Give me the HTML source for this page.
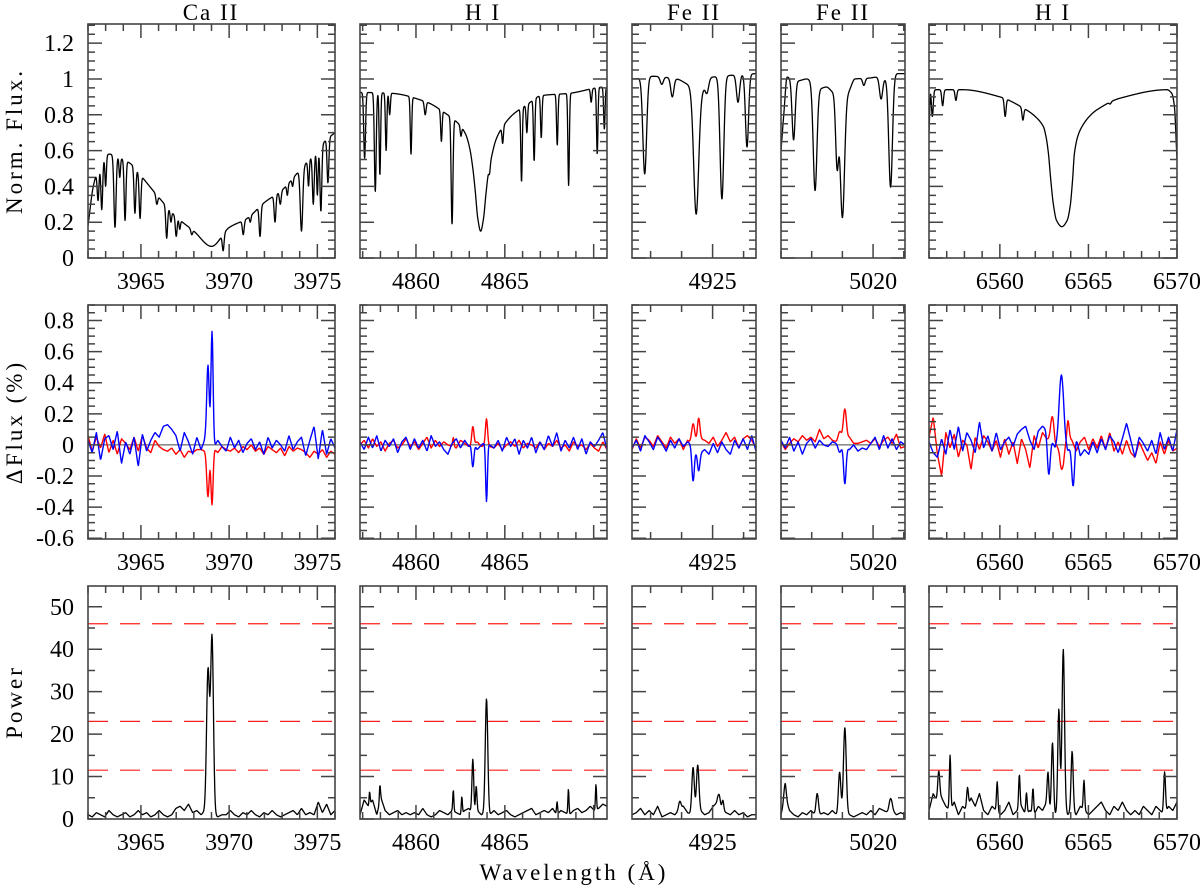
<!DOCTYPE html>
<html><head><meta charset="utf-8"><style>
html,body{margin:0;padding:0;background:#fff;}
svg{display:block;font-family:"Liberation Serif","DejaVu Serif",serif;}
</style></head><body>
<svg id="fig" width="1200" height="890" viewBox="0 0 1200 890" xmlns="http://www.w3.org/2000/svg">
<text x="211" y="20" font-size="23" text-anchor="middle" letter-spacing="2">Ca II</text>
<text x="483" y="20" font-size="23" text-anchor="middle" letter-spacing="2">H I</text>
<text x="694" y="20" font-size="23" text-anchor="middle" letter-spacing="2">Fe II</text>
<text x="843" y="20" font-size="23" text-anchor="middle" letter-spacing="2">Fe II</text>
<text x="1053" y="20" font-size="23" text-anchor="middle" letter-spacing="2">H I</text>
<text transform="translate(22,141) rotate(-90)" font-size="23" text-anchor="middle" letter-spacing="3">Norm. Flux.</text>
<text transform="translate(22,422) rotate(-90)" font-size="23" text-anchor="middle" letter-spacing="3">ΔFlux (%)</text>
<text transform="translate(22,702) rotate(-90)" font-size="23" text-anchor="middle" letter-spacing="3">Power</text>
<text x="574" y="880" font-size="23" text-anchor="middle" letter-spacing="3">Wavelength (Å)</text>
</svg>
<script>
// ---------- axis configuration ----------
const colLeft=[88,360,632,781,929];
const colRight=[335,607,756,905,1177];
const colMin=[3962,4856.85,4922.4,5017.0,6556];
const colMax=[3976,4870.75,4926.4,5021.04,6570];
const colMajor=[[3965,3970,3975],[4860,4865,4870],[4925],[5020],[6560,6565,6570]];
const colLabels=[["3965","3970","3975"],["4860","4865",""],["4925"],["5020"],["6560","6565","6570"]];
const rowTop=[24,305,586];
const rowBot=[258,539,819];
const rowMin=[0,-0.605,0];
const rowMax=[1.307,0.9,54.9];
const rowMajorStep=[0.2,0.2,10];
const rowMinorStep=[0.05,0.05,5];
const row1Labels=["0","0.2","0.4","0.6","0.8","1","1.2"];
const row2Labels=["-0.6","-0.4","-0.2","0","0.2","0.4","0.6","0.8"];
const row3Labels=["0","10","20","30","40","50"];
const thresholds=[11.5,23,46];

// ---------- Row 1: normalized flux (continuum points + absorption lines [lambda, minFlux, sigma]) ----------
const fluxCont1=[[3962,0.18],[3962.3,0.4],[3962.6,0.5],[3963.2,0.58],[3964,0.55],[3964.5,0.52],[3965,0.46],[3966,0.34],[3967,0.23],[3968,0.15],[3969,0.065],[3970,0.17],[3971,0.22],[3972,0.31],[3973,0.38],[3974,0.49],[3975,0.6],[3975.5,0.66],[3976,0.7]];
const fluxLines1=[[3962.57,0.32,0.05],[3962.78,0.27,0.05],[3963.0,0.4,0.04],[3963.53,0.17,0.06],[3963.8,0.45,0.04],[3964.1,0.21,0.05],[3964.66,0.25,0.05],[3964.95,0.22,0.05],[3965.9,0.3,0.05],[3966.46,0.11,0.05],[3966.7,0.2,0.04],[3967.0,0.12,0.05],[3967.2,0.16,0.04],[3967.88,0.13,0.05],[3969.66,0.04,0.05],[3970.8,0.13,0.05],[3971.2,0.2,0.04],[3971.75,0.12,0.05],[3972.6,0.2,0.05],[3972.9,0.3,0.05],[3973.3,0.35,0.04],[3973.6,0.4,0.04],[3974.1,0.15,0.07],[3974.5,0.4,0.04],[3974.77,0.3,0.05],[3975.0,0.35,0.04],[3975.2,0.26,0.05],[3975.6,0.42,0.05]];
const fluxCont2=[[4856.61,0.926],[4858.62,0.92],[4860.62,0.87],[4861.63,0.81],[4862.43,0.746],[4862.8,0.69],[4863.03,0.61],[4863.2,0.5],[4863.33,0.38],[4863.48,0.22],[4863.64,0.15],[4863.8,0.22],[4863.94,0.36],[4864.08,0.48],[4864.24,0.56],[4864.5,0.66],[4864.84,0.727],[4865.44,0.8],[4866.24,0.856],[4867.05,0.907],[4868.65,0.92],[4870.66,0.955],[4870.86,0.95]];
const fluxLines2=[[4857.11,0.557,0.05],[4857.71,0.37,0.05],[4857.97,0.46,0.04],[4858.32,0.6,0.04],[4858.52,0.8,0.04],[4859.72,0.58,0.04],[4860.52,0.8,0.05],[4861.43,0.65,0.04],[4862.03,0.187,0.05],[4862.53,0.68,0.04],[4864.14,0.47,0.04],[4864.88,0.64,0.04],[4865.94,0.424,0.04],[4866.24,0.7,0.04],[4866.65,0.54,0.04],[4867.05,0.67,0.04],[4867.95,0.63,0.04],[4868.59,0.405,0.04],[4869.86,0.87,0.04],[4870.2,0.58,0.04],[4870.6,0.72,0.04]];
const fluxCont3=[[4922.4,1.0],[4922.44,1.0],[4923.04,1.015],[4923.84,1.0],[4924.19,0.97],[4924.59,0.93],[4924.99,1.01],[4925.57,1.02],[4926.4,1.03]];
const fluxLines3=[[4922.81,0.47,0.06],[4923.36,0.97,0.05],[4923.7,0.9,0.05],[4924.47,0.245,0.08],[4924.82,0.92,0.05],[4925.3,0.33,0.06],[4925.82,0.87,0.05],[4926.11,0.62,0.05]];
const fluxCont4=[[5017.0,0.6],[5017.09,0.8],[5017.2,1.01],[5017.55,0.99],[5017.84,1.0],[5018.25,0.946],[5018.48,0.955],[5018.72,0.926],[5019.18,0.93],[5019.41,1.0],[5019.88,1.005],[5020.11,1.01],[5020.34,1.0],[5020.81,1.03],[5021.04,1.03]];
const fluxLines4=[[5017.41,0.66,0.05],[5018.11,0.377,0.06],[5018.83,0.51,0.05],[5019.0,0.226,0.07],[5019.7,0.964,0.04],[5020.26,0.888,0.05],[5020.57,0.396,0.06]];
const fluxCont5=[[6556,0.7],[6556.1,0.94],[6557.9,0.94],[6560.0,0.9],[6561.5,0.827],[6562.0,0.79],[6562.46,0.733],[6562.62,0.67],[6562.74,0.585],[6562.88,0.43],[6563.02,0.3],[6563.2,0.21],[6563.5,0.175],[6563.8,0.21],[6563.97,0.29],[6564.1,0.43],[6564.21,0.585],[6564.4,0.68],[6564.63,0.733],[6565.0,0.785],[6565.47,0.827],[6566.8,0.893],[6569.43,0.94],[6569.7,0.92],[6569.85,0.85],[6570,0.55]];
const fluxLines5=[[6556.19,0.79,0.05],[6556.77,0.85,0.05],[6557.52,0.88,0.05],[6560.3,0.79,0.05],[6561.3,0.77,0.05],[6566.23,0.86,0.05]];

// ---------- Row 2: delta flux (noise in 0.01 units, evenly spaced; features [lambda, amp, sigma]) ----------
const dBlueNoise1=[3,-5,8,-10,4,6,-3,9,-12,2,-6,5,-14,7,-4,3,8,5,12,13,10,6,-4,8,2,-6,5,-3,4,0,-2,3,-1,-4,5,-2,3,-5,1,4,-3,2,-6,5,-2,3,0,-4,6,-3,2,5,-7,3,12,-9,10,-6,4,-2];
const dRedNoise1=[6,-4,5,-2,7,-5,3,-6,4,1,-3,5,-4,6,-2,-5,3,-1,-3,-4,-2,-6,-3,-8,-4,-5,-3,-3,-4,-3,-2,-5,-1,-3,-4,-2,-5,-1,-3,0,-4,-2,-6,-1,-3,-5,-2,-7,-1,-4,-2,-3,-5,-8,-4,-6,-3,-8,-4,-6];
const dBlueFeat1=[[3968.8,0.5,0.07],[3969.03,0.74,0.06]];
const dRedFeat1=[[3968.8,-0.3,0.07],[3969.03,-0.36,0.06]];
const dBlueNoise2=[2,-3,5,-2,6,-4,3,-1,4,-5,2,5,-3,4,-2,3,-4,6,-1,2,-3,-6,1,4,-2,3,-1,2,-3,0,2,0,-2,3,-4,5,-1,4,-6,3,-2,5,-5,2,-3,6,-1,8,-4,3,-2,5,-3,4,-6,2,-1,3,8,-3];
const dRedNoise2=[0,3,-2,4,-1,2,-4,1,3,-2,0,4,-1,2,-3,1,5,-2,3,-1,2,0,-1,-2,3,1,-1,0,2,-1,0,-1,-2,1,-3,0,2,-1,3,-2,1,0,-2,2,-3,1,-1,3,-2,0,-4,2,-1,0,-3,1,-2,-4,2,-3];
const dBlueFeat2=[[4863.2,-0.16,0.06],[4863.97,-0.38,0.05]];
const dRedFeat2=[[4863.2,0.12,0.06],[4863.97,0.17,0.06],[4862.1,0.06,0.04]];
const dBlueNoise3=[-2,3,-4,6,2,-3,5,1,-4,3,-2,4,-1,2,0,-4,-5,-3,-6,1,-5,2,-3,-6,3,-2,4,-3,6,-4];
const dRedNoise3=[-3,4,-2,5,3,-1,6,2,-2,5,1,4,-3,3,0,2,4,3,1,5,-1,3,8,2,5,-2,4,6,3,-2];
const dBlueFeat3=[[4924.37,-0.22,0.04],[4924.55,-0.12,0.04]];
const dRedFeat3=[[4924.37,0.13,0.05],[4924.55,0.14,0.04]];
const dBlueNoise4=[3,-2,5,-4,2,-6,1,4,-2,3,0,-1,2,1,0,-1,-3,0,-4,-2,-3,1,5,-3,6,-2,4,-3,2,0];
const dRedNoise4=[2,-3,1,4,2,6,3,5,2,10,4,6,3,2,4,3,5,1,1,2,3,1,4,-1,3,5,1,7,-2,-1];
const dBlueFeat4=[[5019.08,-0.24,0.04],[5018.91,-0.05,0.05]];
const dRedFeat4=[[5019.08,0.2,0.05],[5018.91,0.05,0.05]];
const dBlueNoise5=[2,-5,-8,4,-6,10,-3,12,-4,8,3,-5,15,-2,6,-4,8,-3,2,5,-1,7,10,12,3,-3,9,12,10,4,-2,4,6,-4,0,5,-7,-3,-6,2,-5,4,-3,6,2,-5,4,14,3,-8,5,1,-4,3,-6,8,-3,5,-4,10];
const dRedNoise5=[5,18,-6,-20,8,-2,7,-8,3,0,-16,5,-3,6,2,-4,3,-8,4,-6,2,-12,4,-3,-15,6,-2,8,4,2,-3,5,-2,6,3,-4,2,5,-3,4,-2,6,-3,8,-4,2,-6,3,-5,-8,2,-4,-10,-5,-12,2,-6,3,-4,-2];
const dBlueFeat5=[[6563.47,0.4,0.12],[6562.76,-0.26,0.08],[6564.14,-0.28,0.08]];
const dRedFeat5=[[6562.97,0.18,0.1],[6563.47,-0.17,0.12],[6563.85,0.1,0.06]];

// ---------- Row 3: power (baseline evenly spaced; peaks [lambda, height, sigma]) ----------
const powNoise1=[1,0.5,1.5,1,0.5,2,1,0.5,1,1.5,0.5,1,2,1,1.5,0.5,1,2,1,0.5,1,2.5,3,2,3.5,1.5,2,1,2,3.5,1,0.5,1,1,2,1,0.5,1.5,1,2,1,0.5,1.5,1,2,1,0.5,1,1.5,2,1,2.5,1,1.5,1,4,1.5,3.5,1,2];
const powPeaks1=[[3968.8,32,0.08],[3969.03,41,0.08]];
const powNoise2=[1,4.5,3,4.5,1,5,2,1,1.5,2,1,1.5,1,1.5,1,2.5,1,0.5,1,2,1.5,1,2,1.5,1,2,2.5,1,2,1,1.5,1,2,1,1.5,2,1,0.5,1,1.5,2,2.5,1,1.5,2,1.5,2.5,1,2,1.5,1,2,2.5,1.5,2,3,2,2.5,3.5,3];
const powPeaks2=[[4863.2,13,0.05],[4863.39,6,0.04],[4863.97,27,0.07],[4862.1,5,0.03],[4862.58,4,0.03],[4857.39,3,0.03],[4857.97,4,0.03],[4867.94,3,0.03],[4868.58,6,0.03],[4870.13,6,0.03]];
const powNoise3=[1,1.5,2.5,1,2,1,3,0.5,1,1.5,1,2,3,1.5,1,1.5,2,1,1.5,3,4,2,1.5,1,2,1,1.5,0.5,1,1];
const powPeaks3=[[4924.37,11,0.04],[4924.52,11,0.04],[4923.94,2,0.04],[4925.21,2.5,0.04],[4925.33,2.5,0.03]];
const powNoise4=[1,5,2,1,0.5,1.5,1,2,1,1,1.5,1,2,1,1,1.5,1,0.5,1,1.5,1,2,1,2.5,2,1.5,2,1,1.5,1];
const powPeaks4=[[5018.91,10,0.04],[5019.08,20,0.045],[5017.13,3.5,0.04],[5018.18,5,0.04],[5020.57,3,0.05]];
const powNoise5=[2,6,4,5,3,2,4,1,3,2,5,3,6,2,1,3,2,1,2,4,1,2,3,1,2,1,3,2,4,1,1,2,3,1,2,1,3,2,1,2,3,4,2,1,3,2,4,2,1,2,1,3,2,1,3,2,1,3,2,4];
const powPeaks5=[[6556.55,7,0.06],[6557.19,13,0.04],[6558.17,5,0.05],[6559.85,7,0.04],[6561.1,8,0.04],[6561.5,5,0.04],[6561.87,6,0.04],[6562.72,8,0.05],[6562.97,17,0.06],[6563.33,24,0.06],[6563.58,37,0.07],[6564.08,14,0.06],[6564.75,7,0.04],[6569.3,10,0.05]];

const fluxConts=[fluxCont1,fluxCont2,fluxCont3,fluxCont4,fluxCont5];
const fluxLinesAll=[fluxLines1,fluxLines2,fluxLines3,fluxLines4,fluxLines5];
const dBlueNoises=[dBlueNoise1,dBlueNoise2,dBlueNoise3,dBlueNoise4,dBlueNoise5];
const dRedNoises=[dRedNoise1,dRedNoise2,dRedNoise3,dRedNoise4,dRedNoise5];
const dBlueFeats=[dBlueFeat1,dBlueFeat2,dBlueFeat3,dBlueFeat4,dBlueFeat5];
const dRedFeats=[dRedFeat1,dRedFeat2,dRedFeat3,dRedFeat4,dRedFeat5];
const powNoises=[powNoise1,powNoise2,powNoise3,powNoise4,powNoise5];
const powPeaksAll=[powPeaks1,powPeaks2,powPeaks3,powPeaks4,powPeaks5];

const NS="http://www.w3.org/2000/svg";
const svg=document.getElementById('fig');
function mk(tag,attrs,parent){const e=document.createElementNS(NS,tag);for(const k in attrs)e.setAttribute(k,attrs[k]);(parent||svg).appendChild(e);return e;}
function xs(c,l){return colLeft[c]+(l-colMin[c])/(colMax[c]-colMin[c])*(colRight[c]-colLeft[c]);}
function ys(r,v){return rowBot[r]-(v-rowMin[r])/(rowMax[r]-rowMin[r])*(rowBot[r]-rowTop[r]);}
// monotone cubic (Fritsch-Carlson) interpolation through [x,y] pairs
function interpPairs(arr,l){
 const n=arr.length;
 if(l<=arr[0][0])return arr[0][1];
 if(l>=arr[n-1][0])return arr[n-1][1];
 let i=1;while(arr[i][0]<l)i++;
 const sl=k=>(arr[k+1][1]-arr[k][1])/(arr[k+1][0]-arr[k][0]);
 const tan=k=>{
  if(k===0)return sl(0);
  if(k===n-1)return sl(n-2);
  const a=sl(k-1),b=sl(k);
  if(a*b<=0)return 0;
  return 2/(1/a+1/b);
 };
 const x0=arr[i-1][0],x1=arr[i][0],y0=arr[i-1][1],y1=arr[i][1],h=x1-x0,t=(l-x0)/h;
 const m0=tan(i-1),m1=tan(i);
 const t2=t*t,t3=t2*t;
 return (2*t3-3*t2+1)*y0+(t3-2*t2+t)*h*m0+(-2*t3+3*t2)*y1+(t3-t2)*h*m1;
}
function interpEven(arr,c,l){const t=(l-colMin[c])/(colMax[c]-colMin[c])*(arr.length-1);const i=Math.max(0,Math.min(arr.length-2,Math.floor(t)));const f=t-i;return arr[i]+f*(arr[i+1]-arr[i]);}
function g(l,c,s){return Math.exp(-0.5*((l-c)/s)*((l-c)/s));}
function pathFrom(c,r,fn,n){let d='';for(let i=0;i<=n;i++){const l=colMin[c]+(colMax[c]-colMin[c])*i/n;const v=fn(l);d+=(i?'L':'M')+xs(c,l).toFixed(2)+','+ys(r,v).toFixed(2);}return d;}

const rowNames=['flux','delta-flux','power'];
const defs=mk('defs',{});
for(let r=0;r<3;r++){
 for(let c=0;c<5;c++){
  const cp=mk('clipPath',{id:'cp'+r+c},defs);
  mk('rect',{x:colLeft[c],y:rowTop[r],width:colRight[c]-colLeft[c],height:rowBot[r]-rowTop[r]},cp);
  const grp=mk('g',{'clip-path':'url(#cp'+r+c+')'});
  
  
  if(r===0){
   const cont=fluxConts[c],lines=fluxLinesAll[c];
   const fn=l=>{let f=interpPairs(cont,l);for(const ln of lines){const cc=interpPairs(cont,ln[0]);const dep=Math.max(0,1-ln[1]/cc);f*=1-dep*g(l,ln[0],ln[2]);}return f;};
   const p=mk('path',{d:pathFrom(c,0,fn,900),fill:'none',stroke:'#000','stroke-width':1.3,'stroke-linejoin':'round'},grp);
   
   
  } else if(r===1){
   const zl=mk('line',{x1:colLeft[c],x2:colRight[c],y1:ys(1,0),y2:ys(1,0),stroke:'#444','stroke-width':1},grp);
   
   
   const series=[[dRedNoises[c],dRedFeats[c],'#ff0000','red'],[dBlueNoises[c],dBlueFeats[c],'#0000ff','blue']];
   for(const s of series){
    const fn=l=>{let v=0.01*interpEven(s[0],c,l);for(const f of s[1])v+=f[1]*g(l,f[0],f[2]);return v;};
    const p=mk('path',{d:pathFrom(c,1,fn,500),fill:'none',stroke:s[2],'stroke-width':1.4,'stroke-linejoin':'round'},grp);
    
    
   }
  } else {
   for(const th of thresholds){
    const dl=mk('line',{x1:colLeft[c],x2:colRight[c],y1:ys(2,th),y2:ys(2,th),stroke:'#ff2020','stroke-width':1.2,'stroke-dasharray':'20,12'},grp);
    
    
   }
   const noise=powNoises[c],peaks=powPeaksAll[c];
   const fn=l=>{let v=interpEven(noise,c,l);for(const pk of peaks)v+=pk[1]*g(l,pk[0],pk[2]);return v;};
   const p=mk('path',{d:pathFrom(c,2,fn,600),fill:'none',stroke:'#000','stroke-width':1.3,'stroke-linejoin':'round'},grp);
   
   
  }
  const fr=mk('rect',{x:colLeft[c],y:rowTop[r],width:colRight[c]-colLeft[c],height:rowBot[r]-rowTop[r],fill:'none',stroke:'#444','stroke-width':1.6});
  
  
  let d='';
  for(let l=Math.ceil(colMin[c]);l<=colMax[c];l++){
   const x=xs(c,l);const maj=colMajor[c].indexOf(l)>=0;const len=maj?14:7;
   d+='M'+x+','+rowBot[r]+'v'+(-len)+'M'+x+','+rowTop[r]+'v'+len;
  }
  const st=rowMinorStep[r],mj=rowMajorStep[r];
  for(let k=Math.ceil(rowMin[r]/st-1e-6);k*st<=rowMax[r]+1e-9;k++){
   const v=k*st;const y=ys(r,v);const maj=Math.abs(v/mj-Math.round(v/mj))<1e-6;const len=maj?14:7;
   d+='M'+colLeft[c]+','+y+'h'+len+'M'+colRight[c]+','+y+'h'+(-len);
  }
  const tk=mk('path',{d:d,stroke:'#444','stroke-width':1.5,fill:'none'});
  
  
  for(let i=0;i<colMajor[c].length;i++){
   if(!colLabels[c][i])continue;
   const t=mk('text',{x:xs(c,colMajor[c][i]),y:rowBot[r]+31,'font-size':24,'text-anchor':'middle'});
   t.textContent=colLabels[c][i];
   
   
  }
 }
 const labs=[row1Labels,row2Labels,row3Labels][r];
 for(const s of labs){
  const t=mk('text',{x:74,y:ys(r,parseFloat(s))+8,'font-size':24,'text-anchor':'end'});
  t.textContent=s;
  
  
 }
}
</script>
</body></html>
